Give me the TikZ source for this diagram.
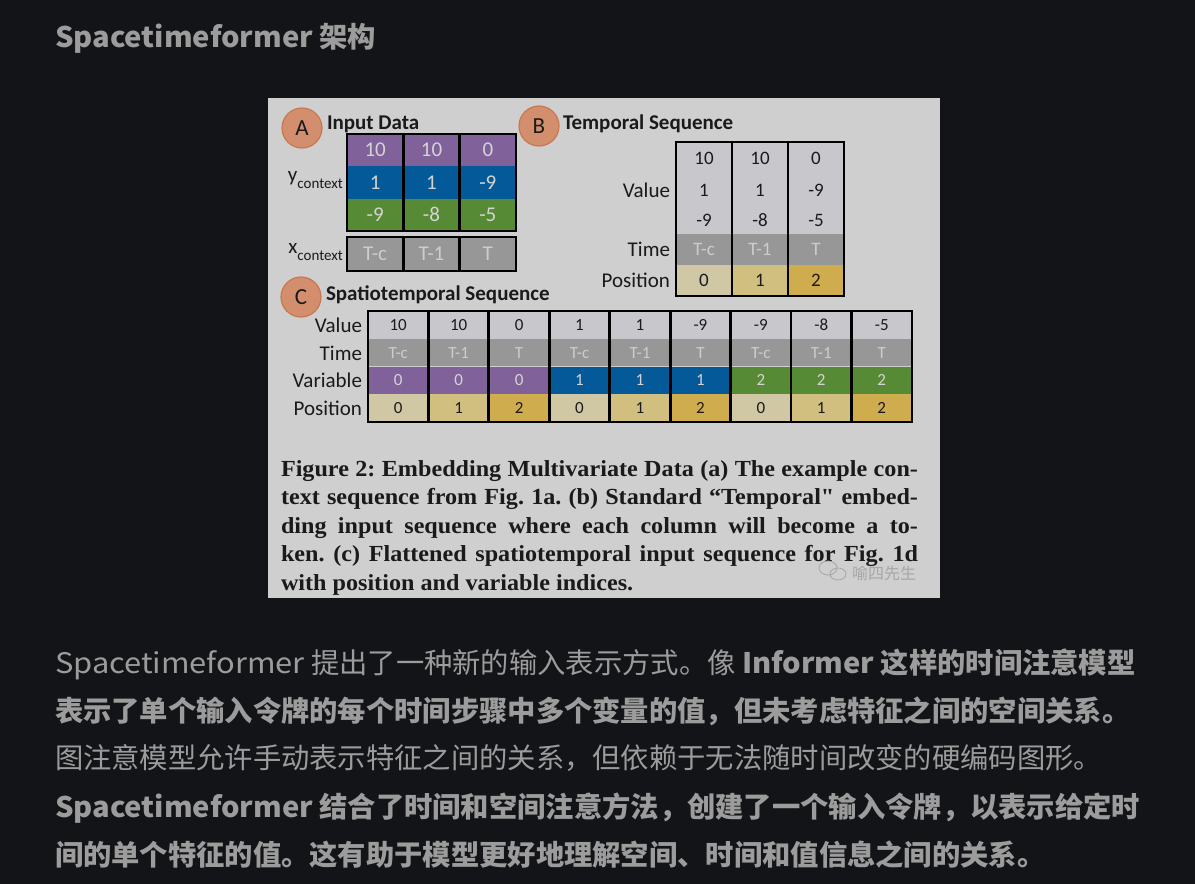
\documentclass[tikz,border=0pt]{standalone}
\usepackage{fontspec}
\newfontfamily\cjk{Noto Sans CJK SC}
\newfontfamily\latr{Noto Sans CJK SC}[FakeStretch=1.09]
\newfontfamily\latb{Noto Sans CJK SC}[FakeStretch=1.03]
\newfontfamily\figf{Carlito}
\newfontfamily\capf{Liberation Serif}[FakeStretch=1.05]
\definecolor{pagebg}{HTML}{131417}
\definecolor{txt}{HTML}{9C9C9C}
\definecolor{figbg}{HTML}{CFCFCF}
\definecolor{cpurple}{HTML}{80619A}
\definecolor{cblue}{HTML}{045A98}
\definecolor{cgreen}{HTML}{578A34}
\definecolor{vgray}{HTML}{C8C8CC}
\definecolor{tgray}{HTML}{979797}
\definecolor{ttext}{HTML}{CDCDCD}
\definecolor{ctext}{HTML}{D4D4D4}
\definecolor{posa}{HTML}{D0C8A5}
\definecolor{posb}{HTML}{D1BF80}
\definecolor{posc}{HTML}{CFAD4F}
\definecolor{circfill}{HTML}{D38F6D}
\definecolor{circdraw}{HTML}{C8784F}
\definecolor{ink}{HTML}{1A1A1A}
\definecolor{wm}{HTML}{A6A6A6}
\begin{document}
\begin{tikzpicture}[x=1pt,y=-1pt,
  plain/.style={inner sep=0pt, outer sep=0pt},
  body/.style={plain, anchor=base west, text=txt, font=\cjk\fontsize{28.3}{28.3}\selectfont},
  bodyb/.style={body, font=\cjk\bfseries\fontsize{28.3}{28.3}\selectfont},
  circ/.style={circle, minimum size=40pt, inner sep=0pt, fill=circfill, draw=circdraw, line width=1.2pt, text=ink, font=\figf\fontsize{23}{23}\selectfont},
  head/.style={plain, anchor=base west, text=ink, font=\figf\bfseries\fontsize{21}{21}\selectfont},
  lab/.style={plain, anchor=east, text=ink, font=\figf\fontsize{21}{21}\selectfont},
  cellA/.style={plain, minimum width=56.33pt, minimum height=32.33pt, text=ctext, font=\figf\fontsize{21}{21}\selectfont},
  cellB/.style={plain, minimum width=56pt, minimum height=31pt, text=ink, font=\figf\fontsize{19}{19}\selectfont},
  cellC/.style={plain, minimum width=60.44pt, minimum height=27.75pt, text=ink, font=\figf\fontsize{17}{17}\selectfont},
  bord/.style={line width=2.8pt, draw=black},
  capline/.style={plain, anchor=base west, text=ink, font=\capf\bfseries\fontsize{23}{23}\selectfont\frenchspacing}
]
\useasboundingbox (0,0) rectangle (1195,884);
\fill[pagebg] (0,0) rectangle (1195,884);

% title
\node[bodyb] (title) at (55,47) {{\latb\bfseries Spacetimeformer} 架构};

% figure background
\node[plain, fill=figbg, minimum width=672pt, minimum height=500pt, anchor=north west] (fig) at (268,98) {};

% ---------- A ----------
\node[circ] (cA) at (302,128) {A};
\node[head] (hA) at (327,129) {Input Data};
\foreach \v [count=\i] in {10,10,0}
  \node[cellA, fill=cpurple] (ya1-\i) at ({347+56.33*(\i-0.5)},150.2) {\v};
\foreach \v [count=\i] in {1,1,-9}
  \node[cellA, fill=cblue] (ya2-\i) at ({347+56.33*(\i-0.5)},182.5) {\v};
\foreach \v [count=\i] in {-9,-8,-5}
  \node[cellA, fill=cgreen] (ya3-\i) at ({347+56.33*(\i-0.5)},214.8) {\v};
\foreach \v [count=\i] in {T-c,T-1,T}
  \node[cellA, fill=tgray, text=ttext, minimum height=34pt] (xa-\i) at ({347+56.33*(\i-0.5)},254) {\v};
\draw[bord] (ya1-1.north west) rectangle (ya3-3.south east);
\draw[bord] (ya1-1.north east) -- (ya3-1.south east);
\draw[bord] (ya1-2.north east) -- (ya3-2.south east);
\draw[bord] (xa-1.north west) rectangle (xa-3.south east);
\draw[bord] (xa-1.north east) -- (xa-1.south east);
\draw[bord] (xa-2.north east) -- (xa-2.south east);
\node[lab] (ylab) at (343,180) {y\raisebox{-0.3em}{\fontsize{15}{15}\selectfont context}};
\node[lab] (xlab) at (343,252) {x\raisebox{-0.3em}{\fontsize{15}{15}\selectfont context}};

% ---------- B ----------
\node[circ] (cB) at (539,126) {B};
\node[head] (hB) at (563,129) {Temporal Sequence};
\foreach \i in {1,2,3}
  \node[cellB, fill=vgray, minimum height=92pt] (bv-\i) at ({676+56*(\i-0.5)},188) {};
\foreach \a/\b/\c [count=\i] in {10/1/-9, 10/1/-8, 0/-9/-5}{
  \node[cellB, minimum height=0pt] (bva-\i) at ({676+56*(\i-0.5)},158.5) {\a};
  \node[cellB, minimum height=0pt] (bvb-\i) at ({676+56*(\i-0.5)},190) {\b};
  \node[cellB, minimum height=0pt] (bvc-\i) at ({676+56*(\i-0.5)},220.5) {\c};
}
\foreach \t/\p/\f [count=\i] in {T-c/0/posa, T-1/1/posb, T/2/posc}{
  \node[cellB, fill=tgray, text=ttext] (bt-\i) at ({676+56*(\i-0.5)},249.5) {\t};
  \node[cellB, fill=\f] (bp-\i) at ({676+56*(\i-0.5)},280.5) {\p};
}
\draw[bord] (bv-1.north west) rectangle (bp-3.south east);
\draw[bord] (bv-1.north east) -- (bp-1.south east);
\draw[bord] (bv-2.north east) -- (bp-2.south east);
\node[lab] (bl1) at (670,190) {Value};
\node[lab] (bl2) at (670,249.5) {Time};
\node[lab] (bl3) at (670,280.5) {Position};

% ---------- C ----------
\node[circ] (cC) at (301,297) {C};
\node[head] (hC) at (326,300) {Spatiotemporal Sequence};
\foreach \v/\t/\r/\fr/\p/\fp [count=\i] in {
   10/T-c/0/cpurple/0/posa, 10/T-1/0/cpurple/1/posb, 0/T/0/cpurple/2/posc,
   1/T-c/1/cblue/0/posa, 1/T-1/1/cblue/1/posb, -9/T/1/cblue/2/posc,
   -9/T-c/2/cgreen/0/posa, -8/T-1/2/cgreen/1/posb, -5/T/2/cgreen/2/posc}{
  \node[cellC, fill=vgray] (cv-\i) at ({368+60.44*(\i-0.5)},324.9) {\v};
  \node[cellC, fill=tgray, text=ttext] (ct-\i) at ({368+60.44*(\i-0.5)},352.6) {\t};
  \node[cellC, fill=\fr, text=ctext] (cr-\i) at ({368+60.44*(\i-0.5)},380.4) {\r};
  \node[cellC, fill=\fp] (cp-\i) at ({368+60.44*(\i-0.5)},408.1) {\p};
}
\draw[bord] (cv-1.north west) rectangle (cp-9.south east);
\foreach \i in {1,...,8}
  \draw[bord] (cv-\i.north east) -- (cp-\i.south east);
\node[lab] (cl1) at (362,325) {Value};
\node[lab] (cl2) at (362,353) {Time};
\node[lab] (cl3) at (362,380) {Variable};
\node[lab] (cl4) at (362,408) {Position};

% ---------- caption ----------
\node[capline] (cap1) at (281,476) {\makebox[637pt][s]{Figure 2: Embedding Multivariate Data (a) The example con-}};
\node[capline] (cap2) at (281,504.5) {\makebox[637pt][s]{text sequence from Fig. 1a. (b) Standard “Temporal" embed-}};
\node[capline] (cap3) at (281,533) {\makebox[637pt][s]{ding input sequence where each column will become a to-}};
\node[capline] (cap4) at (281,561.5) {\makebox[637pt][s]{ken. (c) Flattened spatiotemporal input sequence for Fig. 1d}};
\node[capline] (cap5) at (281,590) {with position and variable indices.};

% watermark
\draw[wm, line width=0.8pt] (828,568) ellipse [x radius=9pt, y radius=7pt];
\draw[wm, line width=0.8pt] (838,574) ellipse [x radius=8pt, y radius=6pt];
\node[plain, text=wm, font=\cjk\fontsize{16}{16}\selectfont] (wmt) at (884,573) {喻四先生};

% ---------- body text ----------
\node[body] (p1) at (55,673) {{\latr Spacetimeformer} 提出了一种新的输入表示方式。像 {\bfseries{\latb\bfseries Informer} 这样的时间注意模型}};
\node[bodyb] (p2) at (55,721) {表示了单个输入令牌的每个时间步骤中多个变量的值，但未考虑特征之间的空间关系。};
\node[body] (p3) at (55,768) {图注意模型允许手动表示特征之间的关系，但依赖于无法随时间改变的硬编码图形。};
\node[bodyb] (p4) at (55,817) {{\latb\bfseries Spacetimeformer} 结合了时间和空间注意方法，创建了一个输入令牌，以表示给定时};
\node[bodyb] (p5) at (55,865) {间的单个特征的值。这有助于模型更好地理解空间、时间和值信息之间的关系。};
\end{tikzpicture}
\end{document}
